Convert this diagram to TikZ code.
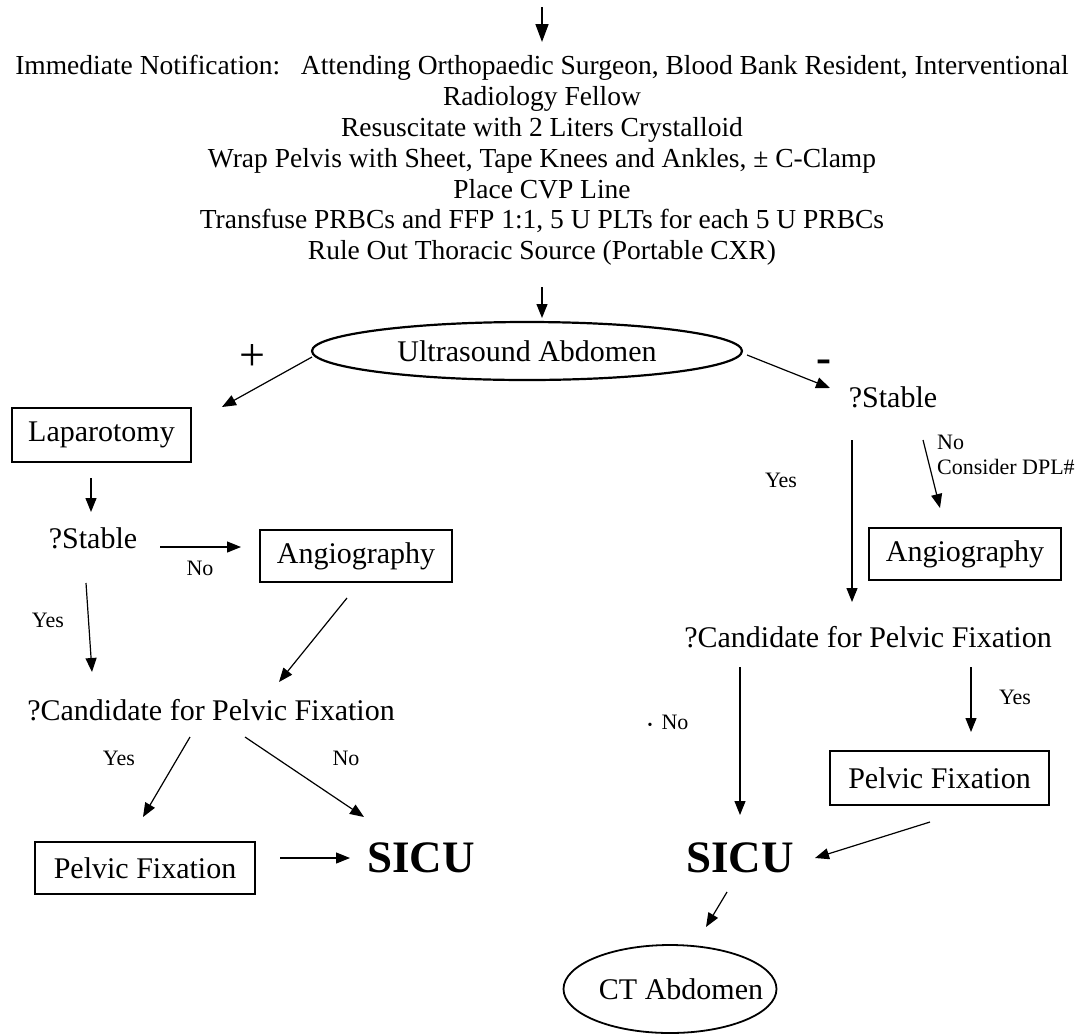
\documentclass[tikz,border=0pt]{standalone}
\usepackage{fontspec}
\setmainfont{Liberation Serif}
\usetikzlibrary{shapes.geometric,arrows.meta,calc}
\tikzset{
  box/.style={draw,line width=1.2pt,inner sep=0pt,font=\fontsize{30}{30}\selectfont},
  txt/.style={inner sep=0pt,font=\fontsize{30}{30}\selectfont},
  lbl/.style={inner sep=0pt,font=\fontsize{22}{25}\selectfont},
  big/.style={inner sep=0pt,font=\fontsize{45}{45}\selectfont\bfseries},
  oval/.style={draw,ellipse,inner sep=0pt,font=\fontsize{30}{30}\selectfont},
  arr/.style={line width=1.2pt,-{Triangle[length=14pt,width=11pt]}},
  arrbig/.style={line width=1.6pt,-{Triangle[length=18pt,width=13pt]}}
}
\begin{document}
\begin{tikzpicture}[x=1pt,y=-1pt]
  \useasboundingbox (0,0) rectangle (1084,1034);
  \coordinate (top) at (542,7);
  \draw
    (542,160.5) node[align=center,inner sep=0pt,font=\fontsize{27.5}{30.8}\selectfont] (notify)
      {Immediate Notification:\ \ \ Attending Orthopaedic Surgeon, Blood Bank Resident, Interventional\\
       Radiology Fellow\\
       Resuscitate with 2 Liters Crystalloid\\
       Wrap Pelvis with Sheet, Tape Knees and Ankles, ± C-Clamp\\
       Place CVP Line\\
       Transfuse PRBCs and FFP 1:1, 5 U PLTs for each 5 U PRBCs\\
       Rule Out Thoracic Source (Portable CXR)}
    (527,351) node[oval,line width=2.2pt,minimum width=430pt,minimum height=58pt] (us) {Ultrasound Abdomen}
    (101.5,435) node[box,minimum width=179pt,minimum height=54pt] (lap) {Laparotomy}
    (93,538) node[txt] (stabL) {?Stable}
    (356,556) node[box,minimum width=192pt,minimum height=52pt] (angL) {Angiography}
    (211,710) node[txt] (candL) {?Candidate for Pelvic Fixation}
    (145,868) node[box,minimum width=220pt,minimum height=52pt] (pfL) {Pelvic Fixation}
    (421,858) node[big] (sicuL) {SICU}
    (893,397) node[txt] (stabR) {?Stable}
    (965,554) node[box,minimum width=192pt,minimum height=52pt] (angR) {Angiography}
    (868,637) node[txt] (candR) {?Candidate for Pelvic Fixation}
    (939.5,778) node[box,minimum width=219pt,minimum height=54pt] (pfR) {Pelvic Fixation}
    (740,858) node[big] (sicuR) {SICU}
    (670,989) node[oval,line width=1.8pt,minimum width=213pt,minimum height=88pt] (ct) {\makebox[0pt]{\kern22pt CT Abdomen}};
  \draw
    (252,357) node[inner sep=0pt,font=\fontsize{46}{46}\selectfont] (plus) {+}
    (824,366) node[inner sep=0pt,font=\fontsize{45}{45}\selectfont\bfseries] (minus) {-}
    (200,568) node[lbl] (noA) {No}
    (48,620) node[lbl] (yesA) {Yes}
    (119,758) node[lbl] (yesB) {Yes}
    (346,758) node[lbl] (noB) {No}
    (781,480) node[lbl] (yesC) {Yes}
    (937,455) node[lbl,anchor=west,align=left] (noC) {No\\Consider DPL\#}
    (668,722) node[lbl] (noD) {{\fontsize{14}{14}\selectfont\textbullet}\hspace{9pt}No}
    (1015,697) node[lbl] (yesD) {Yes};
  \draw[arrbig] (top) to ($(notify)+(0,-118.5)$);
  \begin{scope}[arr]
    \draw ($(notify)+(0,126.5)$) to ($(us)+(15,-33)$);
    \draw ($(us)+(-215,6)$) to ($(lap)+(120.5,-28)$);
    \draw ($(us)+(220,4)$) to ($(stabR)+(-63,-9)$);
    \draw ($(lap)+(-10.5,43)$) to ($(stabL)+(-2,-26)$);
    \draw ($(stabL)+(67,9)$) to ($(angL)+(-115,-9)$);
    \draw ($(stabL)+(-7,45)$) to ($(candL)+(-119,-38)$);
    \draw ($(angL)+(-9,42)$) to ($(candL)+(68,-28)$);
    \draw ($(candL)+(-21,27)$) to ($(pfL)+(-2,-51)$);
    \draw ($(candL)+(34,27)$) to ($(sicuL)+(-57,-41)$);
    \draw ($(pfL)+(135,-10)$) to ($(sicuL)+(-71,0)$);
    \draw ($(stabR)+(-41,43)$) to ($(candR)+(-16,-35)$);
    \draw ($(stabR)+(30,43)$) to ($(angR)+(-25,-46)$);
    \draw ($(candR)+(-128,30)$) to ($(sicuR)+(0,-43)$);
    \draw ($(candR)+(103,30)$) to ($(pfR)+(31.5,-46)$);
    \draw ($(pfR)+(-9.5,44)$) to ($(sicuR)+(75,0)$);
    \draw ($(sicuR)+(-13,34)$) to ($(ct)+(36,-62)$);
  \end{scope}
\end{tikzpicture}
\end{document}
